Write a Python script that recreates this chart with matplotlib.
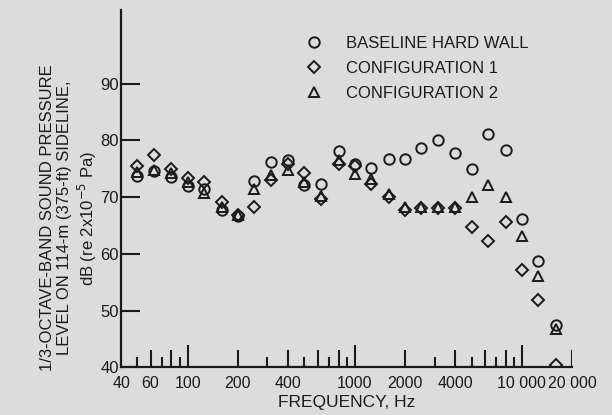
import matplotlib
matplotlib.use("Agg")
import matplotlib.pyplot as plt

# 1/3-octave band centre frequencies, Hz
freq = [50, 63, 80, 100, 125, 160, 200, 250, 315, 400, 500, 630, 800,
        1000, 1250, 1600, 2000, 2500, 3150, 4000, 5000, 6300, 8000,
        10000, 12500, 16000]

# sound pressure level, dB
baseline = [73.8, 74.6, 73.6, 72.0, 71.5, 67.7, 66.7, 72.8, 76.1, 76.5, 72.1, 72.4, 78.1,
            75.9, 75.2, 76.7, 76.7, 78.7, 80.0, 77.7, 74.9, 81.2, 78.3,
            66.1, 58.8, 47.5]
config1 = [75.5, 77.4, 75.0, 73.3, 72.7, 69.2, 66.8, 68.3, 73.1, 75.8, 74.3, 69.7, 75.8,
           75.4, 72.4, 70.0, 67.7, 68.0, 68.0, 68.0, 64.8, 62.3, 65.6,
           57.1, 51.9, 40.5]
config2 = [74.4, 74.8, 74.3, 72.7, 70.7, 68.3, 66.9, 71.4, 73.9, 74.8, 72.7, 70.2, 76.5,
           74.1, 73.2, 70.5, 68.3, 68.2, 68.2, 68.2, 70.0, 72.1, 70.0,
           63.2, 56.1, 46.8]

xtick_pos = [40, 60, 100, 200, 400, 1000, 2000, 4000, 10000, 20000]
xtick_lab = ["40", "60", "100", "200", "400", "1000", "2000", "4000", "10 000", "20 000"]
ytick_pos = [40, 50, 60, 70, 80, 90]

# tick marks along the frequency axis
tall_ticks = [100, 1000, 10000]
mid_ticks = [60, 80, 200, 400, 600, 800, 2000, 4000, 6000, 8000, 20000]
short_ticks = [50, 70, 90, 300, 500, 700, 900, 3000, 5000, 7000, 9000]

bg = "#dcdcdc"
ink = "#1a1a1a"
plt.rcParams["font.family"] = ["Liberation Sans", "DejaVu Sans"]

fig = plt.figure(figsize=(6.12, 4.15), dpi=100, facecolor=bg)
ax = fig.add_axes([0.198, 0.1145, 0.737, 0.862])
ax.set_facecolor(bg)

mk = dict(linestyle="none", markerfacecolor="none", markeredgecolor=ink,
          markeredgewidth=1.4, color=ink)
ax.plot(freq, baseline, marker="o", markersize=7.5, label="BASELINE HARD WALL", **mk)
ax.plot(freq, config1, marker="D", markersize=6, label="CONFIGURATION 1", **mk)
ax.plot(freq, config2, marker="^", markersize=7, label="CONFIGURATION 2", **mk)

ax.set_xscale("log")
ax.set_xlim(40, 20000)
ax.set_ylim(40, 103)

for s in ["top", "right"]:
    ax.spines[s].set_visible(False)
for s in ["left", "bottom"]:
    ax.spines[s].set_linewidth(1.6)
    ax.spines[s].set_color(ink)

ax.set_xticks(xtick_pos, xtick_lab)
ax.xaxis.set_minor_locator(matplotlib.ticker.NullLocator())
ax.tick_params(axis="x", length=0, pad=6, labelsize=11.5, colors=ink)
ax.set_yticks(ytick_pos)
ax.tick_params(axis="y", direction="in", length=13.5, width=1.5, pad=1.5,
               labelsize=12, colors=ink)

tr = ax.get_xaxis_transform()
ax.vlines(tall_ticks, 0, 0.064, transform=tr, color=ink, lw=1.5)
ax.vlines(mid_ticks, 0, 0.048, transform=tr, color=ink, lw=1.5)
ax.vlines(short_ticks, 0, 0.028, transform=tr, color=ink, lw=1.5)

ax.set_xlabel("FREQUENCY, Hz", fontsize=12.5, color=ink, labelpad=3)

fig.text(0.113, 0.475,
         "1/3-OCTAVE-BAND SOUND PRESSURE\nLEVEL ON 114-m (375-ft) SIDELINE,\n"
         r"dB (re 2x10$^{-5}$ Pa)",
         rotation=90, ha="center", va="center", ma="center",
         fontsize=12, color=ink, linespacing=1.2)

leg = ax.legend(loc="upper left", bbox_to_anchor=(0.395, 0.945), frameon=False,
                fontsize=12, handletextpad=1.4, labelspacing=0.6,
                handlelength=1.0, borderaxespad=0)
for t in leg.get_texts():
    t.set_color(ink)

fig.savefig("out.png", dpi=100, facecolor=bg)
